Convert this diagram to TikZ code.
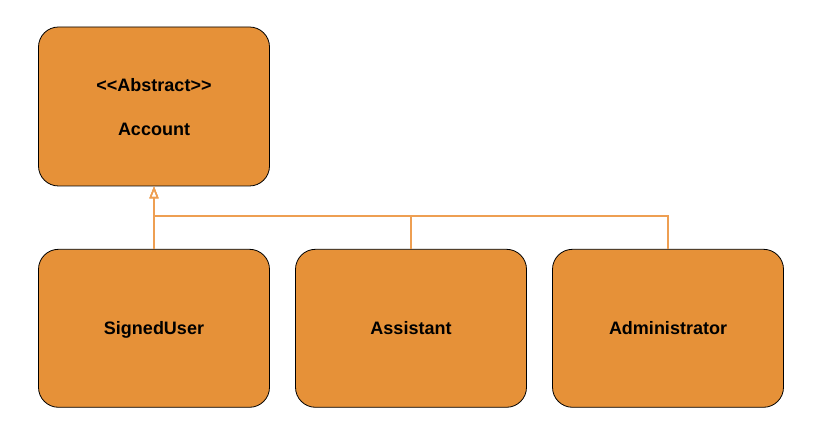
\documentclass[tikz,border=0pt]{standalone}
\usepackage{fontspec}
\setmainfont{Liberation Sans}
\usetikzlibrary{arrows.meta,positioning}
\definecolor{boxfill}{HTML}{E69138}
\definecolor{linkcol}{HTML}{EE9F52}

\begin{document}
\begin{tikzpicture}[x=1pt,y=1pt,node distance=62.5pt and 25.2pt,
                    class node/.style={rectangle,rounded corners=20pt,draw=black,line width=0.8pt,
                      fill=boxfill,minimum width=231pt,minimum height=158pt,align=center,
                      text depth=0pt,font=\fontsize{18}{44}\selectfont\bfseries},
                    link/.style={draw=linkcol,line width=2pt,
                      -{Triangle[open,width=9pt,length=12pt,line width=1.4pt]}}]
  \useasboundingbox (0,0) rectangle (822,434);
  \node[class node,minimum height=159pt] (account) at (154,327.5) {<\kern0pt<Abstract>\kern0pt>\\Account};
  \node[class node] (user) [below=of account] {SignedUser};
  \node[class node] (assistant) [right=of user] {Assistant};
  \node[class node] (admin) [right=of assistant] {Administrator};
  \draw[link] (user.north) -- (account.south);
  \draw[link] (assistant.north) |- ++(0,32.5) -| (account.south);
  \draw[link] (admin.north) |- ++(0,32.5) -| (account.south);
\end{tikzpicture}
\end{document}
